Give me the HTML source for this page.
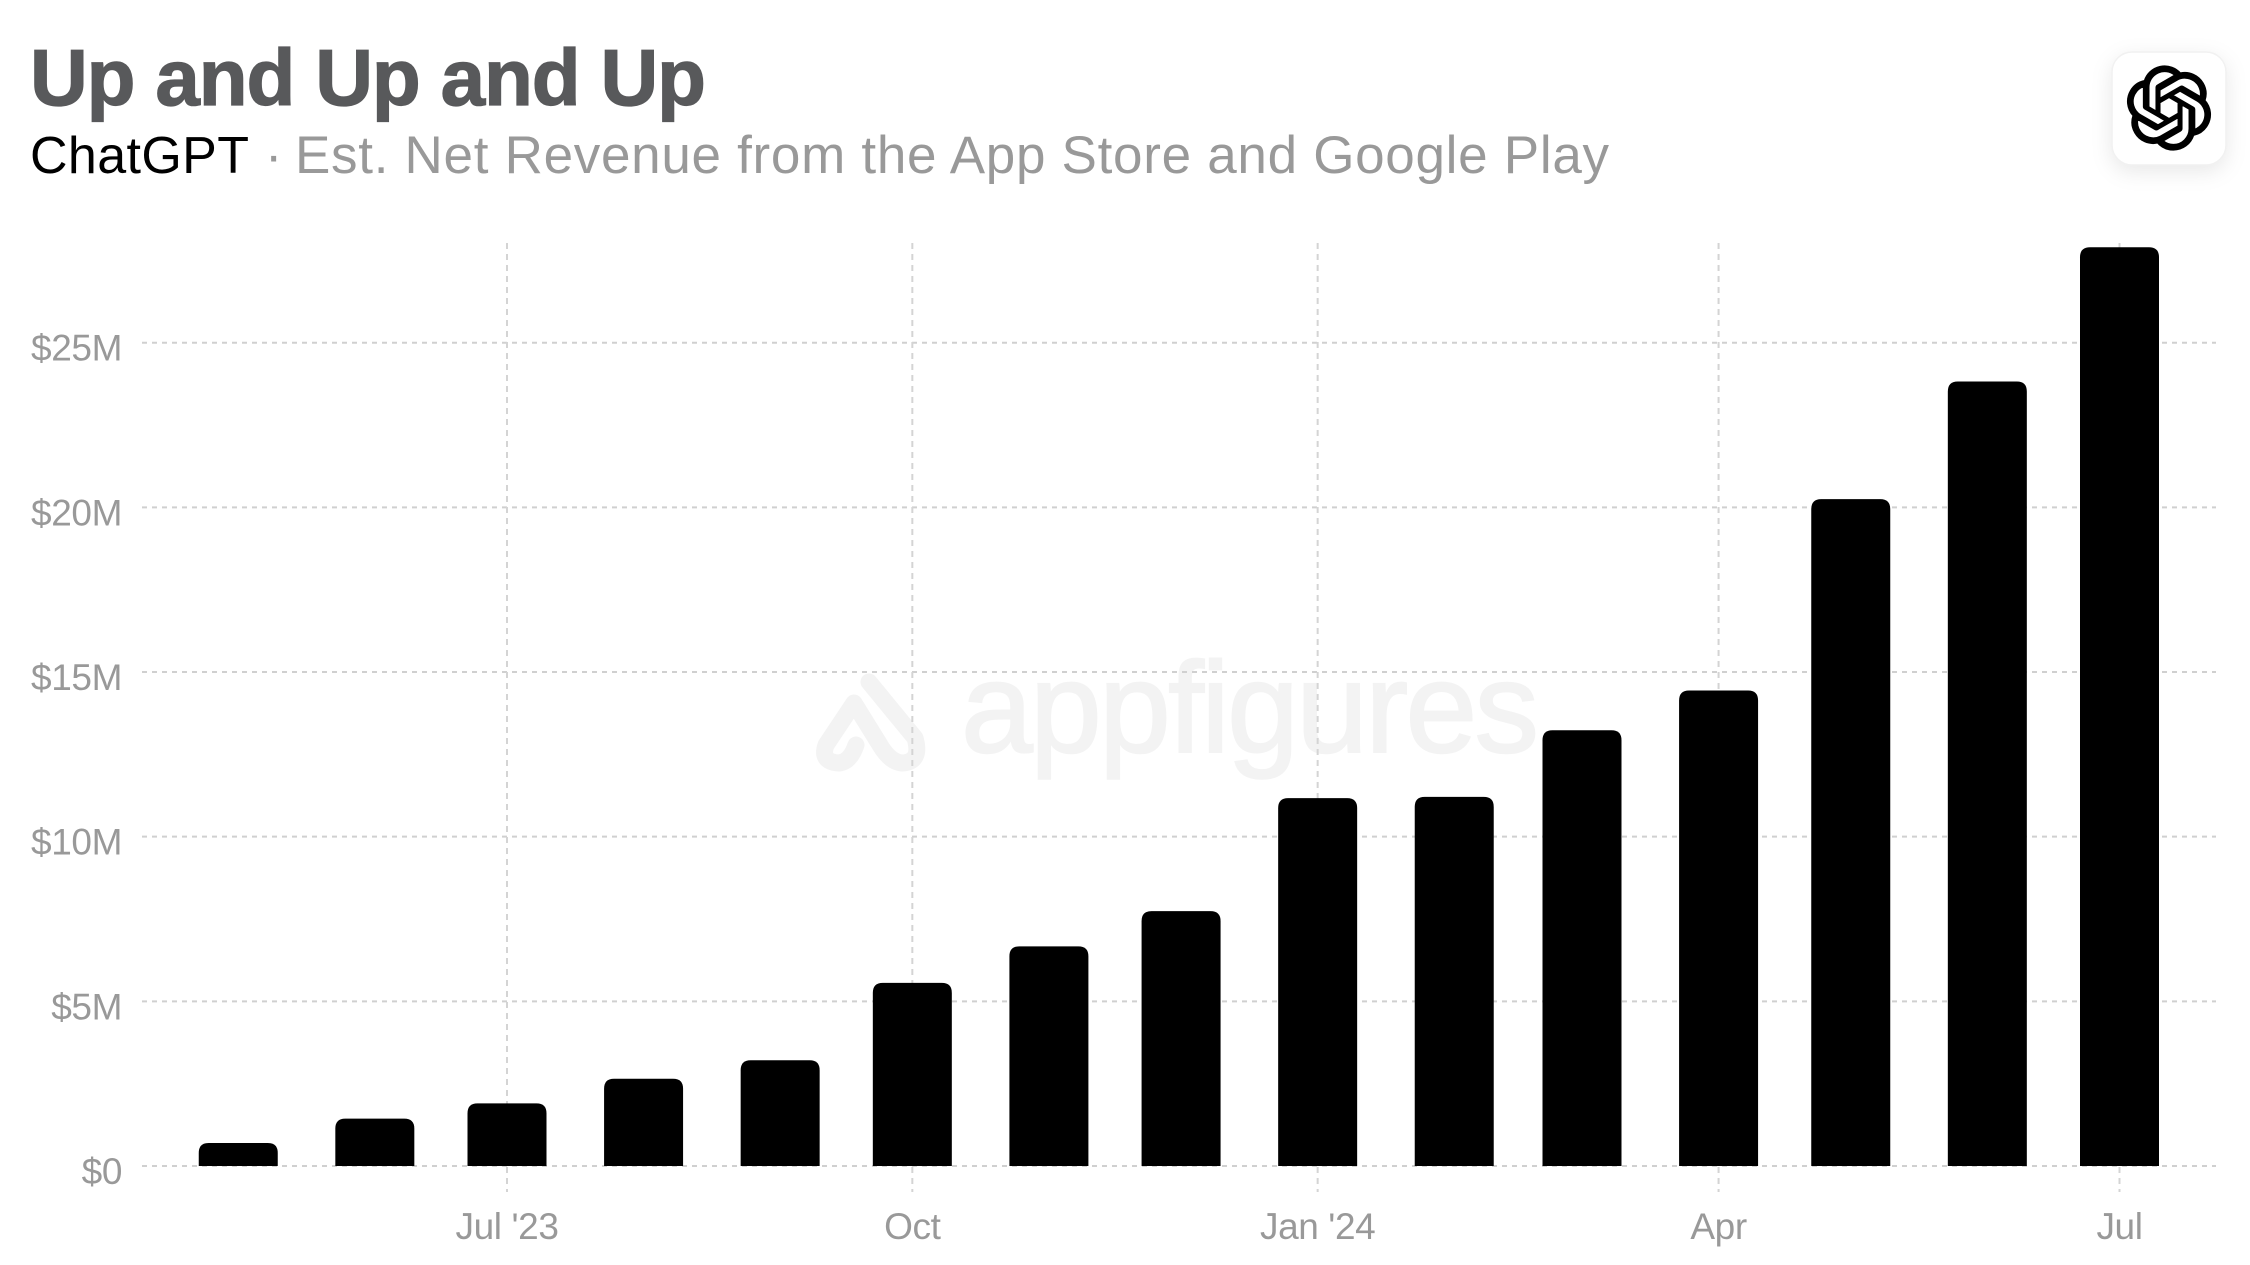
<!DOCTYPE html>
<html lang="en">
<head>
<meta charset="utf-8">
<title>Up and Up and Up</title>
<style>
  html, body { margin: 0; padding: 0; background: #fff; }
  body { width: 2250px; height: 1265px; overflow: hidden; }
  svg { display: block; font-family: "Liberation Sans", sans-serif; }
  .icon-card { filter: drop-shadow(0 6px 10px rgba(0,0,0,.09)); }
</style>
</head>
<body>
<svg id="chart" width="2250" height="1265" viewBox="0 0 2250 1265" xmlns="http://www.w3.org/2000/svg">
  <rect x="0" y="0" width="2250" height="1265" fill="#ffffff"/>

  <text x="30" y="105" font-size="80" font-weight="700" fill="#58595b" stroke="#58595b" stroke-width="1.2" textLength="676" lengthAdjust="spacing">Up and Up and Up</text>
  <text x="30" y="173" font-size="52" fill="#000000" textLength="219" lengthAdjust="spacing">ChatGPT</text>
  <text x="265" y="173" font-size="52" fill="#999999">·</text>
  <text x="295" y="173" font-size="53" fill="#999999" textLength="1314" lengthAdjust="spacing">Est. Net Revenue from the App Store and Google Play</text>

  <g>
    <rect class="icon-card" x="2112" y="52" width="114" height="113" rx="20" ry="20" fill="#ffffff" stroke="#f1f1f1" stroke-width="1.5"/>
    <path transform="translate(2127 66) scale(3.5)" fill="#000000" stroke="#000000" stroke-width="0.35" d="M22.2819 9.8211a5.9847 5.9847 0 0 0-.5157-4.9108 6.0462 6.0462 0 0 0-6.5098-2.9A6.0651 6.0651 0 0 0 4.9807 4.1818a5.9847 5.9847 0 0 0-3.9977 2.9 6.0462 6.0462 0 0 0 .7427 7.0966 5.98 5.98 0 0 0 .511 4.9107 6.051 6.051 0 0 0 6.5146 2.9001A5.9847 5.9847 0 0 0 13.2599 24a6.0557 6.0557 0 0 0 5.7718-4.2058 5.9894 5.9894 0 0 0 3.9977-2.9001 6.0557 6.0557 0 0 0-.7475-7.0729zm-9.022 12.6081a4.4755 4.4755 0 0 1-2.8764-1.0408l.1419-.0804 4.7783-2.7582a.7948.7948 0 0 0 .3927-.6813v-6.7369l2.02 1.1686a.071.071 0 0 1 .038.052v5.5826a4.504 4.504 0 0 1-4.4945 4.4944zm-9.6607-4.1254a4.4708 4.4708 0 0 1-.5346-3.0137l.142.0852 4.783 2.7582a.7712.7712 0 0 0 .7806 0l5.8428-3.3685v2.3324a.0804.0804 0 0 1-.0332.0615L9.74 19.9502a4.4992 4.4992 0 0 1-6.1408-1.6464zM2.3408 7.8956a4.485 4.485 0 0 1 2.3655-1.9728V11.6a.7664.7664 0 0 0 .3879.6765l5.8144 3.3543-2.0201 1.1685a.0757.0757 0 0 1-.071 0l-4.8303-2.7865A4.504 4.504 0 0 1 2.3408 7.872zm16.5963 3.8558L13.1038 8.364 15.1192 7.2a.0757.0757 0 0 1 .071 0l4.8303 2.7913a4.4944 4.4944 0 0 1-.6765 8.1042v-5.6772a.79.79 0 0 0-.407-.667zm2.0107-3.0231l-.142-.0852-4.7735-2.7818a.7759.7759 0 0 0-.7854 0L9.409 9.2297V6.8974a.0662.0662 0 0 1 .0284-.0615l4.8303-2.7866a4.4992 4.4992 0 0 1 6.6802 4.66zM8.3065 12.863l-2.02-1.1638a.0804.0804 0 0 1-.038-.0567V6.0742a4.4992 4.4992 0 0 1 7.3757-3.4537l-.142.0805L8.704 5.459a.7948.7948 0 0 0-.3927.6813zm1.0976-2.3654l2.602-1.4998 2.6069 1.4998v2.9994l-2.5974 1.4997-2.6067-1.4997Z"/>
  </g>

  <g>
    <path d="M869 682 L915 738 Q922 762 902 763 Q890 762 880 745 L854 703 L826 745 Q820 762 839 763 Q850 762 856 745" fill="none" stroke="#f3f3f3" stroke-width="17" stroke-linecap="round" stroke-linejoin="round"/>
    <text x="961" y="752" font-size="129" fill="#f3f3f3" stroke="#f3f3f3" stroke-width="2" textLength="578" lengthAdjust="spacing">appfigures</text>
  </g>

  <g id="grid"></g>
  <g id="bars"></g>
  <g id="y-axis"></g>
  <g id="x-axis"></g>
</svg>

<script>
const months = ['2023-05-01','2023-06-01','2023-07-01','2023-08-01','2023-09-01','2023-10-01','2023-11-01','2023-12-01','2024-01-01','2024-02-01','2024-03-01','2024-04-01','2024-05-01','2024-06-01','2024-07-01'];
const revenueMillions = [0.70,1.44,1.90,2.65,3.21,5.56,6.67,7.74,11.17,11.21,13.23,14.44,20.25,23.82,27.90];
const yTickValues = [0,5,10,15,20,25];
const yTickLabels = ['$0','$5M','$10M','$15M','$20M','$25M'];
const xTickDates = ['2023-07-01','2023-10-01','2024-01-01','2024-04-01','2024-07-01'];
const xTickLabels = ["Jul '23",'Oct',"Jan '24",'Apr','Jul'];

const SVG_NS = 'http://www.w3.org/2000/svg';
const toTime = function (s) { return new Date(s + 'T00:00:00Z').getTime(); };
const xDomainStart = toTime('2023-07-01');
const xDomainEnd = toTime('2024-07-01');
function xScale(dateString) {
  return 507 + (toTime(dateString) - xDomainStart) / (xDomainEnd - xDomainStart) * (2119.5 - 507);
}
function yScale(value) {
  return 1166 - value / 25 * (1166 - 342.7);
}
const barWidth = 79;
const barRadius = 10;

const grid = document.getElementById('grid');
const bars = document.getElementById('bars');
const yAxis = document.getElementById('y-axis');
const xAxis = document.getElementById('x-axis');

yTickValues.forEach(function (value, i) {
  const line = document.createElementNS(SVG_NS, 'line');
  
  
  line.setAttribute('x1', 142);
  line.setAttribute('x2', 2216);
  line.setAttribute('y1', yScale(value));
  line.setAttribute('y2', yScale(value));
  line.setAttribute('stroke', '#d0d0d0');
  line.setAttribute('stroke-width', 2);
  line.setAttribute('stroke-dasharray', '5 5');
  grid.appendChild(line);

  const label = document.createElementNS(SVG_NS, 'text');
  
  
  label.setAttribute('x', 122);
  label.setAttribute('y', yScale(value) + 18);
  label.setAttribute('text-anchor', 'end');
  label.setAttribute('font-size', 37);
  label.setAttribute('letter-spacing', '-0.4');
  label.setAttribute('fill', '#999999');
  label.textContent = yTickLabels[i];
  yAxis.appendChild(label);
});

xTickDates.forEach(function (dateString, i) {
  const line = document.createElementNS(SVG_NS, 'line');
  
  
  line.setAttribute('x1', xScale(dateString));
  line.setAttribute('x2', xScale(dateString));
  line.setAttribute('y1', 243);
  line.setAttribute('y2', 1192);
  line.setAttribute('stroke', '#d4d4d4');
  line.setAttribute('stroke-width', 2);
  line.setAttribute('stroke-dasharray', '6 5');
  grid.appendChild(line);

  const label = document.createElementNS(SVG_NS, 'text');
  
  
  label.setAttribute('x', xScale(dateString));
  label.setAttribute('y', 1239);
  label.setAttribute('text-anchor', 'middle');
  label.setAttribute('font-size', 37);
  label.setAttribute('letter-spacing', '-0.4');
  label.setAttribute('fill', '#999999');
  label.textContent = xTickLabels[i];
  xAxis.appendChild(label);
});

months.forEach(function (month, i) {
  const cx = xScale(month);
  const left = cx - barWidth / 2;
  const right = cx + barWidth / 2;
  const top = yScale(revenueMillions[i]);
  const base = yScale(0);
  const bar = document.createElementNS(SVG_NS, 'path');
  
  
  bar.setAttribute('d', 'M' + left + ' ' + base + ' L' + left + ' ' + (top + barRadius) +
    ' Q' + left + ' ' + top + ' ' + (left + barRadius) + ' ' + top +
    ' L' + (right - barRadius) + ' ' + top +
    ' Q' + right + ' ' + top + ' ' + right + ' ' + (top + barRadius) +
    ' L' + right + ' ' + base + ' Z');
  bar.setAttribute('fill', '#000000');
  bars.appendChild(bar);
});
</script>
</body>
</html>
